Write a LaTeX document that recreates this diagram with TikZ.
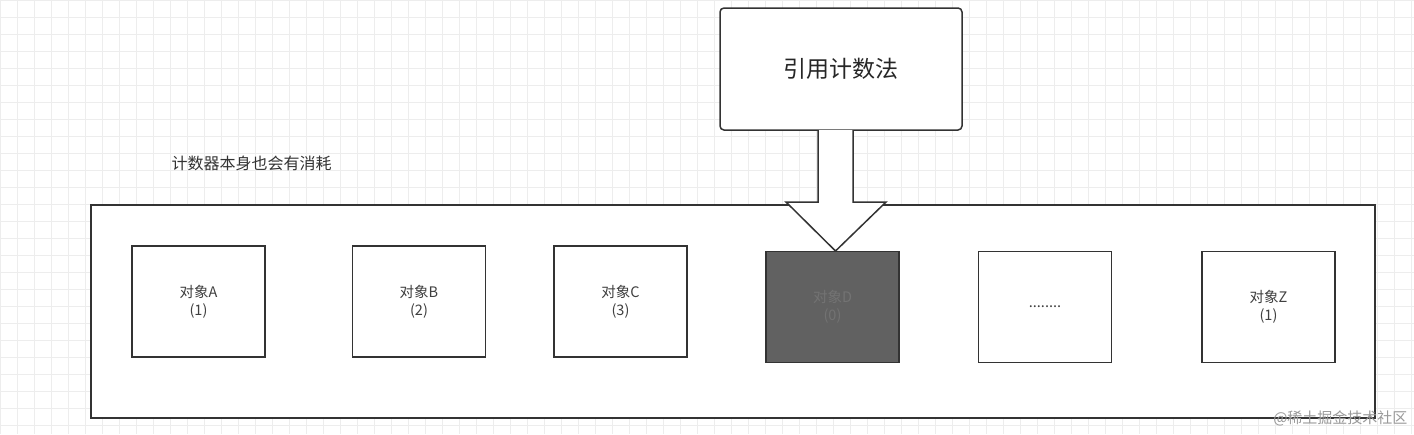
\documentclass[tikz,border=0pt]{standalone}
\usepackage{fontspec}
\setmainfont{Noto Sans CJK SC}
\usetikzlibrary{calc}
\begin{document}
\begin{tikzpicture}[x=1pt,y=-1pt,
  obj/.style={draw=black!80,line width=1.5pt,minimum width=133pt,minimum height=111pt,inner sep=0pt,align=center,font=\fontsize{14.5}{18}\selectfont,text=black!75},
  lbl/.style={font=\fontsize{16}{18}\selectfont,text=black!80}]
\useasboundingbox (0,0) rectangle (1414,434);
\fill[white] (0,0) rectangle (1414,434);
\foreach \i in {0,...,83} \draw[black!7,line width=0.6pt] (\i*17,0) -- (\i*17,434);
\foreach \j in {0,...,25} \draw[black!7,line width=0.6pt] (0,\j*17) -- (1414,\j*17);
\draw[black!80,line width=1.5pt,fill=white] (91,205) rectangle (1375,418);
\node[draw=black!80,line width=1.5pt,fill=white,rounded corners=4pt,minimum width=242pt,minimum height=122pt,font=\fontsize{23}{26}\selectfont,text=black!85] (top) at (841,69) {引用计数法};
\node[lbl,anchor=west] (note) at (168,163) {计数器本身也会有消耗};
\node[obj] (a) at (198.5,301.5) {对象A\\(1)};
\node[obj] (b) at (419,301.5) {对象B\\(2)};
\node[obj] (c) at (620.5,301.5) {对象C\\(3)};
\node[obj,fill=black!62,text=black!55] (d) at (832.5,307) {对象D\\(0)};
\node[obj] (e) at (1045,307) {........};
\node[obj] (z) at (1268.5,307) {对象Z\\(1)};
\draw[black!80,line width=1.5pt,fill=white,line join=miter]
  (818,130) -- (818,202) -- (786,202) -- (835.5,251) -- (886,202) -- (853,202) -- (853,130);
\node[font=\fontsize{15}{17}\selectfont,text=black!40,anchor=east] (wm) at (1411,418) {@稀土掘金技术社区};
\end{tikzpicture}
\end{document}
